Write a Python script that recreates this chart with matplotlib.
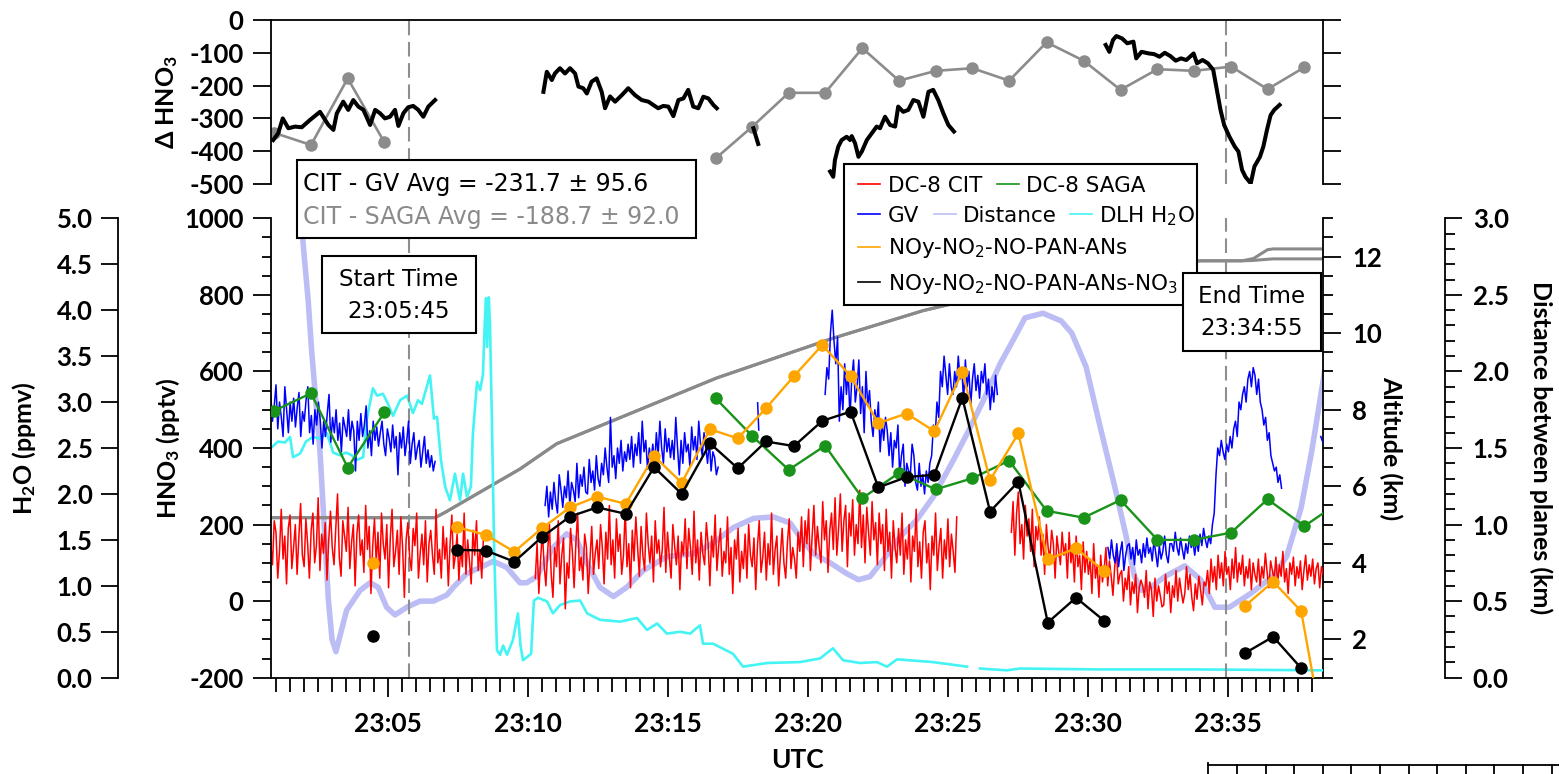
import numpy as np
import matplotlib.pyplot as plt
from matplotlib.lines import Line2D
from matplotlib.patches import Rectangle
from matplotlib.ticker import MultipleLocator, FixedLocator, FuncFormatter, FormatStrFormatter

plt.rcParams['font.family'] = ['Lato', 'DejaVu Sans']
plt.rcParams['font.weight'] = 'bold'
plt.rcParams['axes.unicode_minus'] = False
plt.rcParams['mathtext.default'] = 'regular'

nan = np.nan

# ---- data (time axis = minutes after 23:00 UTC) ----
start_time, end_time = 5.75, 34.917

# DC-8 SAGA HNO3 (pptv) and CIT - SAGA difference
saga_t = [0.92, 2.24, 3.55, 4.86, 10.0, 16.69, 18.00, 19.30, 20.60, 21.93, 23.24, 24.55,
          25.86, 27.17, 28.51, 29.83, 31.15, 32.47, 33.77, 35.10, 36.40, 37.72, 39.03]
saga_v = [497, 543, 349, 493, nan, 530, 431, 343, 406, 269, 335, 292,
          321, 367, 236, 218, 264, 160, 160, 179, 266, 196, 262]
saga_diff = [-344, -381, -178, -373, nan, -422, -325, -222, -222, -86, -185, -155,
             -147, -185, -68, -124, -213, -150, -155, -142, -211, -144, nan]

# NOy budget estimates (pptv)
noy_t = [4.46, 6.0, 7.46, 8.49, 9.50, 10.48, 11.49, 12.46, 13.48, 14.49, 15.48, 16.49,
         17.48, 18.49, 19.49, 20.50, 21.51, 22.50, 23.51, 24.50, 25.50, 26.49, 27.50,
         28.55, 29.56, 30.56, 33.0, 35.59, 36.60, 37.60, 38.60]
noy_pan = [100, nan, 193, 173, 129, 190, 245, 273, 254, 379, 309, 449,
           425, 504, 588, 669, 588, 465, 490, 444, 599, 316, 438,
           109, 138, 79, nan, -13, 51, -26, -430]
noy_no3 = [-91, nan, 134, 132, 103, 167, 221, 245, 228, 350, 280, 412,
           347, 417, 405, 471, 495, 297, 324, 330, 531, 234, 312,
           -56, 9, -51, nan, -136, -93, -175, nan]

# DC-8 CIT HNO3 (pptv), three sampling legs
cit_v1 = [150, 95, 210, 180, 60, 130, 240, 110, 170, 45, 190, 225, 85, 140, 200, 70,
          165, 255, 120, 90, 215, 150, 60, 185, 230, 100, 145, 270, 80, 175, 125, 205,
          55, 160, 235, 140, 95, 190, 280, 115, 65, 210, 170, 130, 245, 85, 155, 200,
          40, 175, 225, 120, 160, 75, 250, 135, 195, 20, 145, 215, 100, 180, 60, 230,
          150, 110, 200, 35, 165, 240, 90, 130, 185, 70, 220, 140, 10, 160, 205, 115,
          80, 190, 145, 230, 60, 125, 175, 95, 210, 50, 150, 185, 120, 70, 240, 100,
          135, 60, 195, 110, 165, 40, 150, 225, 85, 120, 175, 55, 140, 90, 230, 70,
          160, 105, 45, 185, 120, 210, 80, 135, 60, 170]
cit_v2 = [60, 150, 20, 110, 180, 95, 40, 130, 200, 70, 10, 140,
          90, 210, 45, 120, 165, -20, 100, 60, 190, 130, 35, 150,
          230, 80, 115, 55, 175, 140, 20, 105, 195, 70, 125, 160,
          85, 200, 140, 45, 180, 110, 250, 95, 160, 60, 215, 130,
          175, 70, 120, 240, 90, 150, 35, 185, 105, 220, 140, 65,
          195, 120, 80, 230, 150, 100, 170, 50, 210, 125, 160, 90,
          135, 245, 75, 180, 115, 60, 200, 145, 95, 170, 30, 155,
          120, 215, 85, 190, 140, 70, 235, 100, 160, 55, 180, 125,
          95, 205, 150, 40, 170, 115, 225, 80, 145, 190, 65, 130,
          100, 220, 70, 140, 20, 160, 110, 190, 50, 130, 85, 175,
          60, 200, 120, 90, 165, 30, 145, 210, 75, 115, 180, 55,
          150, 95, 230, 70, 135, 170, 40, 120, 190, 100, 60, 155,
          215, 85, 140, 110,
          60, 180, 130, 220, 90, 210, 150, 240, 80, 170, 250, 120,
          195, 140, 100, 260, 160, 210, 75, 185, 230, 135, 270, 120,
          190, 280, 130, 210, 250, 90, 230, 170, 265, 120, 200, 150,
          290, 140, 225, 100, 245, 180, 120, 260, 160, 205, 95, 230,
          150, 200, 80, 240, 130, 180, 60, 210, 140, 100, 190, 120,
          230, 70, 160, 110, 200, 50, 170, 130, 240, 90, 155, 60,
          180, 210, 100, 150, 30, 170, 120, 230, 80, 145, 190, 60,
          160, 110, 215, 90, 175, 130, 75, 220]
cit_v3 = [180, 260, 120, 230, 285, 150, 200, 110, 250, 170, 215, 130,
          240, 90, 195, 160, 220, 120, 175, 70, 200, 140, 110, 185,
          150, 60, 170, 130, 95, 180, 120,
          150, 60, 180, 100, 140, 50, 170, 90, 120, 30, 155, 75,
          130, 70, 110, 20, 150, 60, 95, 10, 120, 50, 85, 140,
          40, 105, 65, 15, 90, 130, 45, 70,
          80, 0, 60, 30, 90, -10, 50, 20, 70, -30, 35, 55,
          40, 10, 80, -20, 50, 30, -40, 60, 0, 40, 15, -15,
          -10, 70, 20, 50, -30, 40, 10, 80, 0, 60, 25, -5,
          20, 90, 30, 70, 10, -25, 45, 5, 65, 30, -10, 50,
          40, 80, 20, 110, 50, 90, 30, 120, 60, 100, 40, 130,
          70, 90, 30, 110, 60, 140, 50, 100, 70, 120, 40, 90,
          60, 110, 30, 100, 70, 50, 110, 40, 90, 60, 125, 75,
          35, 105, 80, 55, 115, 45, 95, 65, 130, 50, 85, 20,
          100, 70, 115, 40, 90, 60, 105, 30, 80, 120, 55, 95,
          65, 110, 45, 85, 100, 35, 90, 70, 55]
cit_legs = [(0.8, 8.4), (10.25, 25.3), (27.25, 38.45)]

# GV HNO3 (pptv)
gv_v1 = [540, 470, 510, 565, 450, 520, 480, 430, 560, 500, 440, 520,
         470, 530, 455, 505, 545, 430, 495, 470, 525, 560, 440, 485,
         410, 500, 460, 520, 475, 400, 470, 430, 490, 540, 415, 480,
         440, 500, 420, 465, 390, 480, 455, 430, 500, 420, 470, 445,
         340, 470, 420, 490, 430, 460, 510, 400, 445, 380, 470, 420,
         455, 405, 440, 470, 410, 380, 450, 425, 390, 460, 400, 430,
         330, 440, 400, 455, 380, 420, 470, 360, 410, 440, 370, 400,
         420, 350, 390, 430, 360, 395, 350, 380, 340, 365]
gv_v2 = [250, 300, 220, 285, 240, 310, 260, 230, 330, 290, 245, 300,
         270, 340, 250, 310, 290, 260, 360, 270, 330, 300, 350, 285,
         280, 370, 310, 340, 290, 380, 320, 300, 360, 330, 400, 350,
         310, 480, 350, 380, 320, 400, 360, 420, 340, 390, 365, 410,
         370, 430, 350, 410, 380, 440, 360, 470, 390, 420, 345, 400,
         370, 410, 350, 440, 380, 470, 400, 360, 450, 390, 425, 375,
         420, 370, 480, 400, 330, 420, 360, 440, 390, 410, 350, 455,
         395, 430, 370, 470, 410, 380, 440, 400, 360, 420, 340, 390,
         375, 330, 350]
gv_v3 = [540, 610, 580, 700, 760, 680, 620, 690, 470, 560, 500, 620,
         540, 600, 480, 580, 630, 520, 560, 630, 490, 560, 440, 600,
         510, 550, 470, 430, 500, 460, 520, 390, 470, 420, 480, 445,
         380, 440, 350, 420, 400, 460, 330, 380, 410, 300, 360, 340,
         330, 410, 380, 310, 290, 360, 300, 330, 280, 340, 310, 360,
         380, 460, 430, 520, 480, 600, 560, 640, 590, 540, 620, 560,
         540, 600, 560, 640, 580, 610, 520, 630, 560, 600, 510, 580,
         620, 550, 590, 530, 600, 570, 620, 540, 580, 500, 560, 520,
         590, 540]
gv_v4 = [140, 110, 160, 120, 100, 150, 90, 130, 155, 80, 120, 145,
         150, 110, 140, 95, 160, 120, 135, 100, 150, 115, 165, 125,
         140, 105, 160, 125, 90, 145, 110, 130, 170, 120, 100, 150,
         150, 130, 180, 140, 120, 165, 135, 110, 150, 125, 170, 140,
         155, 120, 160, 130, 175, 145, 190, 160, 140, 170, 150, 200,
         230, 330, 400, 380, 420, 390, 370, 410, 390, 430, 400, 450,
         470, 430, 520, 500, 540, 560, 520, 580, 600, 560, 610, 590,
         540, 580, 520, 500, 460, 480, 420, 440, 380, 360, 340, 350,
         310, 330, 295]
gv_legs = [(0.8, 6.67), (10.6, 16.78), (20.6, 26.75), (30.7, 36.9)]
gv_bits_t = [18.19, 18.23, nan, 38.30, 38.40, 38.50]
gv_bits_v = [518, 447, nan, 430, 410, 420]

# CIT - GV difference (pptv)
gvd_t = [0.89, 1.07, 1.23, 1.43, 1.67, 1.91, 2.20, 2.56, 2.86, 3.04, 3.16, 3.39, 3.57, 3.75,
         3.93, 4.11, 4.35, 4.53, 4.70, 4.88, 5.06, 5.24, 5.36, 5.54, 5.71, 5.89, 6.07, 6.25,
         6.43, 6.67, 8.0,
         10.54, 10.66, 10.84, 10.95, 11.13, 11.31, 11.49, 11.67, 11.79, 11.96, 12.09, 12.26,
         12.44, 12.62, 12.74, 12.92, 13.10, 13.34, 13.57, 13.81, 14.05, 14.29, 14.46, 14.64,
         14.82, 15.00, 15.18, 15.36, 15.54, 15.71, 15.89, 16.07, 16.25, 16.43, 16.61, 16.73,
         17.5, 18.04, 18.21, 19.5,
         20.78, 20.89, 20.95, 21.07, 21.19, 21.37, 21.49, 21.55, 21.67, 21.79, 21.91, 22.09,
         22.26, 22.44, 22.56, 22.74, 22.92, 23.10, 23.21, 23.39, 23.57, 23.75, 23.93, 24.11,
         24.29, 24.46, 24.64, 24.82, 25.00, 25.20, 28.0,
         30.62, 30.75, 30.88, 31.00, 31.20, 31.39, 31.61, 31.71, 31.90, 32.16, 32.35, 32.54,
         32.73, 32.93, 33.12, 33.31, 33.50, 33.76, 33.88, 34.08, 34.27, 34.46, 34.59, 34.72,
         34.85, 35.04, 35.23, 35.36, 35.49, 35.61, 35.80, 35.93, 36.13, 36.25, 36.38, 36.51,
         36.64, 36.83]
gvd_v = [-366, -345, -300, -330, -325, -327, -305, -280, -320, -335, -285, -249, -274, -244,
         -264, -274, -320, -274, -284, -300, -295, -274, -323, -284, -266, -262, -274, -295,
         -264, -244, nan,
         -219, -158, -183, -163, -147, -163, -147, -163, -203, -208, -224, -188,
         -178, -219, -269, -233, -249, -229, -208, -229, -244, -249, -259, -269,
         -262, -264, -293, -244, -239, -213, -264, -269, -234, -239, -259, -269,
         nan, -330, -378, nan,
         -462, -478, -427, -386, -366, -356, -366, -354, -376, -417, -401, -366,
         -346, -325, -330, -295, -320, -325, -264, -280, -274, -244, -249, -295,
         -219, -213, -244, -284, -320, -340, nan,
         -76, -97, -61, -49, -56, -71, -66, -117, -97, -102, -104, -112,
         -100, -110, -124, -117, -122, -102, -132, -122, -132, -152, -213, -274,
         -320, -356, -386, -401, -457, -478, -498, -447, -417, -386, -335, -290,
         -274, -259]

# DLH H2O (ppmv)
dlh_t = [0.81, 1.06, 1.31, 1.49, 1.60, 1.85, 2.06, 2.31, 2.56, 2.81, 3.03, 3.28, 3.49, 3.70,
         3.88, 4.10, 4.24, 4.45, 4.60, 4.81, 4.99, 5.17, 5.42, 5.67, 5.88, 6.06, 6.20, 6.49,
         6.63, 6.74, 6.88, 7.03, 7.20, 7.38, 7.56, 7.67, 7.81, 7.95, 8.02, 8.17, 8.28, 8.38,
         8.45, 8.49, 8.53, 8.59, 8.63, 8.70, 8.78, 8.88, 8.99, 9.10, 9.24, 9.45, 9.63, 9.72,
         9.81, 10.10, 10.20, 10.35, 10.67, 10.88, 11.13, 11.49, 11.85, 12.10, 12.56, 13.28,
         13.88, 14.24, 14.60, 14.95, 15.42, 15.78, 16.13, 16.24, 16.60, 17.31, 17.67, 18.53,
         19.70, 20.42, 20.88, 21.24, 21.85, 22.45, 22.81, 23.17, 24.45, 25.67, 25.90, 26.13,
         27.09, 27.56, 30.42, 34.00, 38.42]
dlh_h2o = [2.50, 2.57, 2.56, 2.62, 2.40, 2.44, 2.57, 2.62, 2.60, 2.66, 2.45, 2.42, 2.45, 2.42,
           2.37, 2.40, 2.83, 3.15, 3.07, 3.09, 2.98, 2.85, 3.02, 3.07, 2.88, 3.02, 2.98, 3.29,
           2.82, 2.84, 2.37, 2.08, 1.93, 2.22, 1.93, 2.22, 1.97, 2.08, 2.65, 3.22, 3.13, 3.30,
           3.90, 4.13, 3.60, 4.14, 3.85, 2.80, 1.40, 0.30, 0.25, 0.35, 0.25, 0.41, 0.70, 0.35,
           0.19, 0.26, 0.84, 0.87, 0.83, 0.70, 0.79, 0.83, 0.84, 0.70, 0.63, 0.61,
           0.65, 0.52, 0.59, 0.48, 0.50, 0.48, 0.57, 0.37, 0.37, 0.26, 0.12, 0.16,
           0.17, 0.21, 0.32, 0.19, 0.16, 0.17, 0.12, 0.20, 0.17, 0.12, nan, 0.10,
           0.08, 0.10, 0.09, 0.09, 0.08]

# Distance between planes (km)
dist_t = [1.80, 1.88, 1.96, 2.14, 2.26, 2.56, 2.86, 2.99, 3.13, 3.51, 3.99, 4.35, 4.64, 4.94,
          5.24, 5.66, 6.13, 6.61, 7.09, 7.32, 7.80, 8.28, 8.75, 9.23, 9.70, 9.94, 10.30, 10.89,
          11.37, 11.73, 12.09, 12.56, 13.04, 13.51, 14.11, 14.94, 15.89, 16.61, 17.32, 18.04,
          18.75, 19.35, 19.70, 20.18, 20.78, 21.37, 21.79, 22.20, 22.68, 23.28, 23.87, 24.46,
          25.18, 25.66, 26.25, 26.85, 27.36, 27.74, 28.38, 29.03, 29.41, 29.92, 30.42, 30.94,
          31.33, 31.65, 31.90, 32.22, 32.73, 33.44, 34.01, 34.52, 35.04, 35.80, 36.57, 37.08,
          37.60, 37.98, 38.42, 38.81]
dist_km = [3.50, 3.00, 2.83, 2.46, 2.14, 1.48, 0.51, 0.25, 0.17, 0.44, 0.57, 0.62, 0.59, 0.46,
           0.41, 0.46, 0.50, 0.50, 0.54, 0.59, 0.68, 0.72, 0.76, 0.72, 0.62, 0.62, 0.66, 0.85,
           0.94, 0.90, 0.75, 0.59, 0.53, 0.59, 0.70, 0.79, 0.81, 0.88, 0.98, 1.04,
           1.05, 1.01, 0.92, 0.81, 0.75, 0.68, 0.64, 0.66, 0.77, 0.92, 1.03, 1.18,
           1.42, 1.59, 1.81, 2.05, 2.22, 2.35, 2.38, 2.33, 2.25, 2.03, 1.64, 1.25,
           0.94, 0.66, 0.57, 0.59, 0.66, 0.73, 0.64, 0.46, 0.46, 0.55, 0.66, 0.79,
           1.11, 1.48, 1.98, 2.46]

# Aircraft altitudes (km)
alt_t = [0.8, 6.67, 7.03, 8.99, 9.70, 11.01, 16.73, 20.89, 24.11, 26.85, 30.42, 32.56,
         34.06, 35.50, 35.90, 36.40, 36.60, 38.50]
alt_dc8 = [5.18, 5.18, 5.32, 6.15, 6.45, 7.11, 8.83, 9.87, 10.59, 11.06, 11.63, 11.84,
           11.89, 11.89, 11.90, 11.93, 11.94, 11.94]
alt_gv = [5.18, 5.18, 5.32, 6.15, 6.45, 7.11, 8.83, 9.87, 10.59, 11.06, 11.63, 11.84,
          11.89, 11.89, 11.95, 12.18, 12.20, 12.20]

RED, BLUE, GREEN, ORANGE = '#ff0000', '#0000ff', '#1a931a', '#ffa500'
CYAN, LAV, GRAY = '#44f4f4', '#bdbdf5', '#8a8a8a'

# ---- figure / axes ----
W, H = 1559, 774
fig = plt.figure(figsize=(W / 100, H / 100), dpi=100)

x0, x1 = 270.7, 1322.7
ax_top = fig.add_axes([x0 / W, 1 - 184 / H, (x1 - x0) / W, 164 / H])
ax = fig.add_axes([x0 / W, 1 - 677.7 / H, (x1 - x0) / W, 459.4 / H])
ax_dist = ax.twinx()
ax_alt = ax.twinx()
ax_h2o = ax.twinx()
for a, z in [(ax_dist, 1), (ax_alt, 2), (ax_h2o, 3), (ax, 4)]:
    a.set_zorder(z)
    a.patch.set_visible(False)

for a in [ax_top, ax, ax_dist, ax_alt, ax_h2o]:
    a.set_xlim(0.8, 38.37)
    for s in a.spines.values():
        s.set_visible(False)
        s.set_linewidth(1.3)

# top panel
ax_top.spines['left'].set_visible(True)
ax_top.spines['right'].set_visible(True)
ax_top.spines['top'].set_visible(True)
ax_top.set_ylim(-500, 0)
ax_top.yaxis.set_major_locator(MultipleLocator(100))
ax_top.set_xticks([])
ax_top.tick_params(axis='y', left=True, right=True, labelright=False, length=13, width=1.3,
                   pad=6.5, labelsize=18.5)
ax_top.axvline(start_time, color='#8e8e8e', lw=1.5, ls=(0, (7, 3.2)), zorder=1)
ax_top.axvline(end_time, color='#8e8e8e', lw=1.5, ls=(0, (7, 3.2)), zorder=1)
ax_top.plot(saga_t, saga_diff, color='#8c8c8c', lw=1.9, marker='o', ms=8, zorder=2)
ax_top.plot(gvd_t, gvd_v, color='black', lw=2.9, zorder=3)

# main HNO3 panel
ax.spines['left'].set_visible(True)
ax.spines['bottom'].set_visible(True)
ax.set_ylim(-200, 1000)
ax.yaxis.set_major_locator(MultipleLocator(200))
ax.yaxis.set_minor_locator(MultipleLocator(50))
ax.xaxis.set_major_locator(FixedLocator([5, 10, 15, 20, 25, 30, 35]))
ax.xaxis.set_minor_locator(MultipleLocator(0.5))
ax.xaxis.set_major_formatter(FuncFormatter(lambda v, p: f"23:{int(round(v)):02d}"))
ax.tick_params(axis='y', which='major', length=13, width=1.3, pad=6.5, labelsize=18.5)
ax.tick_params(axis='y', which='minor', length=6.5, width=1.3)
ax.tick_params(axis='x', which='major', length=13.5, width=1.3, pad=11, labelsize=19)
ax.tick_params(axis='x', which='minor', length=10, width=1.3)

ax.axvline(start_time, color='#8e8e8e', lw=1.5, ls=(0, (7, 3.2)), zorder=1)
ax.axvline(end_time, color='#8e8e8e', lw=1.5, ls=(0, (7, 3.2)), zorder=1)
for vals, (ta, tb) in zip([cit_v1, cit_v2, cit_v3], cit_legs):
    ax.plot(np.linspace(ta, tb, len(vals)), vals, color=RED, lw=1.1, zorder=2)
for vals, (ta, tb) in zip([gv_v1, gv_v2, gv_v3, gv_v4], gv_legs):
    ax.plot(np.linspace(ta, tb, len(vals)), vals, color=BLUE, lw=1.1, zorder=2)
ax.plot(gv_bits_t, gv_bits_v, color=BLUE, lw=1.1, zorder=2)
ax.plot(saga_t, saga_v, color=GREEN, lw=1.7, marker='o', ms=8, zorder=3)
ax.plot(noy_t, noy_pan, color=ORANGE, lw=1.7, marker='o', ms=8, zorder=4)
ax.plot(noy_t, noy_no3, color='black', lw=1.7, marker='o', ms=8, zorder=5)

# altitude axis (right)
ax_alt.spines['right'].set_visible(True)
ax_alt.set_ylim(1, 13)
ax_alt.yaxis.set_major_locator(MultipleLocator(2))
ax_alt.yaxis.set_minor_locator(MultipleLocator(0.5))
ax_alt.tick_params(axis='y', which='major', length=13, width=1.3, pad=8, labelsize=18.5)
ax_alt.tick_params(axis='y', which='minor', length=7.5, width=1.3)
ax_alt.plot(alt_t, alt_dc8, color=GRAY, lw=2.2)
ax_alt.plot(alt_t, alt_gv, color=GRAY, lw=2.2)

# distance axis (far right)
ax_dist.spines['right'].set_visible(True)
ax_dist.spines['right'].set_position(('outward', 88))
ax_dist.set_ylim(0, 3)
ax_dist.yaxis.set_major_locator(MultipleLocator(0.5))
ax_dist.yaxis.set_minor_locator(MultipleLocator(0.1))
ax_dist.yaxis.set_major_formatter(FormatStrFormatter('%.1f'))
ax_dist.tick_params(axis='y', which='major', length=12, width=1.3, pad=8, labelsize=18.5)
ax_dist.tick_params(axis='y', which='minor', length=7.5, width=1.3)
ax_dist.plot(dist_t, dist_km, color=LAV, lw=4.0, solid_capstyle='round')

# H2O axis (far left)
ax_h2o.spines['left'].set_visible(True)
ax_h2o.spines['left'].set_position(('outward', 109.7))
ax_h2o.yaxis.tick_left()
ax_h2o.set_ylim(0, 5)
ax_h2o.yaxis.set_major_locator(MultipleLocator(0.5))
ax_h2o.yaxis.set_major_formatter(FormatStrFormatter('%.1f'))
ax_h2o.tick_params(axis='y', which='major', length=12, width=1.3, pad=6.5, labelsize=18.5)
ax_h2o.plot(dlh_t, dlh_h2o, color=CYAN, lw=1.9)


# axis titles
def ftext(x, y, s, **kw):
    fig.text(x / W, 1 - y / H, s, **kw)


ftext(24.5, 448, 'H$_2$O (ppmv)', rotation=90, ha='center', va='center', fontsize=18)
ftext(167.5, 448, 'HNO$_3$ (pptv)', rotation=90, ha='center', va='center', fontsize=18)
ftext(167.5, 102, 'Δ HNO$_3$', rotation=90, ha='center', va='center', fontsize=18)
ftext(1391, 448, 'Altitude (km)', rotation=270, ha='center', va='center', fontsize=18)
ftext(1541, 448, 'Distance between planes (km)', rotation=270, ha='center', va='center',
      fontsize=18)
ftext(797, 760, 'UTC', ha='center', va='center', fontsize=19)


# boxes and legend drawn on the figure, above all axes
def box(xa, ya, xb, yb, z):
    fig.add_artist(Rectangle((xa / W, 1 - yb / H), (xb - xa) / W, (yb - ya) / H,
                             transform=fig.transFigure, facecolor='white',
                             edgecolor='black', lw=1.5, zorder=z))


def btext(x, y, s, z, color='black', size=17, ha='left'):
    ftext(x, y, s, ha=ha, va='baseline', fontsize=size, color=color,
          family='DejaVu Sans', weight='normal', zorder=z)


box(296.7, 160, 696, 238.3, 10)
btext(303, 191, 'CIT - GV Avg = -231.7 ± 95.6', 11)
btext(303, 224, 'CIT - SAGA Avg = -188.7 ± 92.0', 11, color='#8a8a8a')

box(321.7, 255.7, 476, 332.7, 10)
btext(398.8, 285.5, 'Start Time', 11, size=16.5, ha='center')
btext(398.8, 318, '23:05:45', 11, size=16.5, ha='center')

box(844, 164, 1197, 305, 10)
legend_rows = [
    (858, 184, 888, 192, RED, 'DC-8 CIT'),
    (997, 184, 1026, 192, GREEN, 'DC-8 SAGA'),
    (858, 214, 888, 222, BLUE, 'GV'),
    (934, 214, 963, 222, LAV, 'Distance'),
    (1070, 214, 1099, 222, CYAN, 'DLH H$_2$O'),
    (858, 247, 888, 254, ORANGE, 'NOy-NO$_2$-NO-PAN-ANs'),
    (858, 282, 888, 290, 'black', 'NOy-NO$_2$-NO-PAN-ANs-NO$_3$'),
]
for lx, ly, tx, ty, c, s in legend_rows:
    fig.add_artist(Line2D([lx / W, (lx + 22) / W], [1 - ly / H, 1 - ly / H], color=c, lw=1.2,
                          transform=fig.transFigure, zorder=11))
    btext(tx, ty, s, 11, size=15.5)

box(1183, 273, 1320.7, 351, 12)
btext(1252, 303, 'End Time', 13, size=16.5, ha='center')
btext(1252, 335, '23:34:55', 13, size=16.5, ha='center')

# cut-off axis fragment at the bottom right
fig.add_artist(Line2D([1208 / W, 1], [1 - 765 / H, 1 - 765 / H], color='black', lw=1.3,
                      transform=fig.transFigure))
for k in range(13):
    xt = (1208.3 + 28.6 * k) / W
    fig.add_artist(Line2D([xt, xt], [1 - (763 if k == 0 else 765) / H, 0], color='black',
                          lw=1.3, transform=fig.transFigure))

fig.savefig('out.png', dpi=100)
